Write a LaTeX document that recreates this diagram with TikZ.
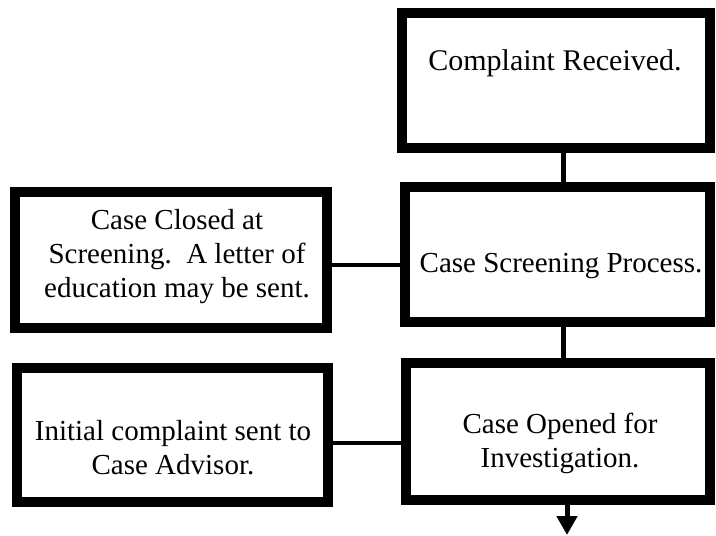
\documentclass[tikz,border=0pt]{standalone}
\usepackage{fontspec}
\setmainfont{Liberation Serif}
\usetikzlibrary{arrows.meta}
\begin{document}
\begin{tikzpicture}[x=1pt,y=-1pt,
  box/.style={draw=black, line width=10pt, inner sep=0pt, outer sep=0pt, fill=white, rectangle},
  lbl/.style={font=\fontsize{29}{34}\selectfont, align=center, inner sep=0pt},
  conn/.style={line width=5pt, draw=black},
  connh/.style={line width=4.5pt, draw=black},
  ]
\useasboundingbox (0,0) rectangle (716,536);
% boxes
\node[box, minimum width=308pt, minimum height=135pt] (c)   at (556,80.5) {};
\node[box, minimum width=305pt, minimum height=135pt] (s)   at (557.5,254.5) {};
\node[box, minimum width=312pt, minimum height=136pt] (cl)  at (171,260) {};
\node[box, minimum width=304pt, minimum height=137pt] (o)   at (558,431.5) {};
\node[box, minimum width=311pt, minimum height=134pt] (ini) at (172.5,435) {};
% texts
\node[lbl, anchor=base, font=\fontsize{30}{34}\selectfont] (tc)  at (555,70) {Complaint Received.};
\node[lbl, anchor=base] (ts)  at (561,272) {Case Screening Process.};
\node[lbl] (tcl) at (177,257) {Case Closed at\\Screening.\ \ A letter of\\education may be sent.};
\node[lbl] (to)  at (560,443) {Case Opened for\\Investigation.};
\node[lbl] (tin) at (173,447.5) {Initial complaint sent to\\Case Advisor.};
% connectors
\draw[conn] ([xshift=7pt]c.south) -- ([xshift=7pt]c.south |- s.north);
\draw[conn] ([xshift=5.5pt]s.south) -- ([xshift=5.5pt]s.south |- o.north);
\draw[connh] ([yshift=-5pt]cl.east) -- ([yshift=-5pt]cl.east -| s.west);
\draw[connh] ([yshift=-8pt]ini.east) -- ([yshift=-8pt]ini.east -| o.west);
\coordinate (end) at (567,535);
\draw[conn, -{Triangle[width=20pt,length=19pt]}] ([xshift=9pt]o.south) -- (end);
\end{tikzpicture}
\end{document}
